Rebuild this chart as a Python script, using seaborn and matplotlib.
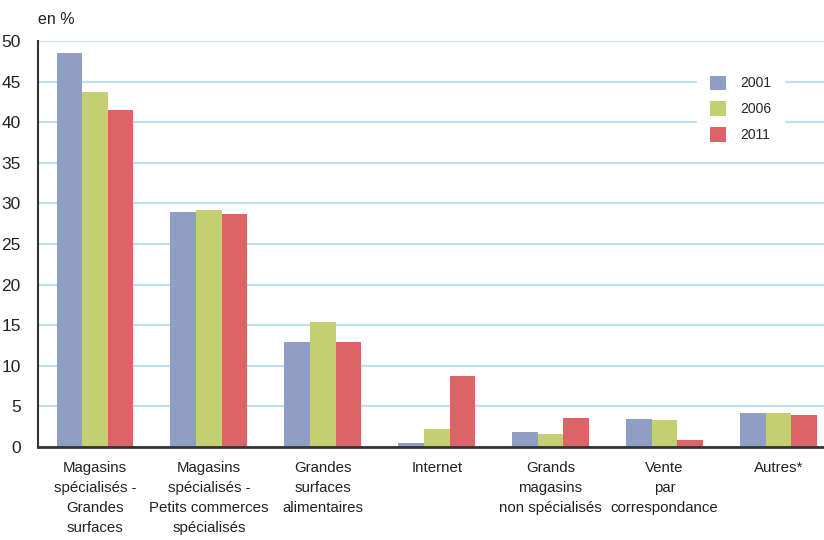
import pandas as pd
import numpy as np
import seaborn as sns
import matplotlib.pyplot as plt

# Data (share in %)
categories = [
    'Magasins\nspécialisés -\nGrandes\nsurfaces',
    'Magasins\nspécialisés -\nPetits commerces\nspécialisés',
    'Grandes\nsurfaces\nalimentaires',
    'Internet',
    'Grands\nmagasins\nnon spécialisés',
    'Vente\npar\ncorrespondance',
    'Autres*',
]
years = ['2001', '2006', '2011']
values_2001 = [48.5, 28.9, 12.9, 0.5, 1.85, 3.45, 4.2]
values_2006 = [43.7, 29.2, 15.4, 2.2, 1.6, 3.3, 4.2]
values_2011 = [41.5, 28.7, 12.9, 8.75, 3.6, 0.85, 3.95]
yticks = [0, 5, 10, 15, 20, 25, 30, 35, 40, 45, 50]

colors = ['#8f9fc3', '#c4cf72', '#dc6466']

df = pd.DataFrame({
    'categorie': categories * 3,
    'annee': np.repeat(years, len(categories)),
    'valeur': values_2001 + values_2006 + values_2011,
})

sns.set_style('white')
plt.rcParams['font.family'] = ['Liberation Sans', 'DejaVu Sans']

fig = plt.figure(figsize=(8.24, 5.4), dpi=100)
ax = fig.add_axes([38 / 824, 1 - 447 / 540, 1 - 38 / 824, 406 / 540])

sns.barplot(data=df, x='categorie', y='valeur', hue='annee', palette=colors,
            width=0.675, gap=0, saturation=1, errorbar=None, linewidth=0,
            ax=ax, zorder=3)

ax.set_xlim(-0.5, 6.4)
ax.set_ylim(0, 50)
ax.set_yticks(yticks)
ax.set_yticklabels([str(t) for t in yticks], fontsize=12.5, color='#222222')
ax.tick_params(axis='y', length=0, pad=12.5)
ax.tick_params(axis='x', length=0, pad=10, labelsize=10.8, labelcolor='#222222')
for lbl in ax.get_xticklabels():
    lbl.set_linespacing(1.55)
    lbl.set_verticalalignment('top')
ax.set_xlabel('')
ax.set_ylabel('')

ax.yaxis.grid(True, color='#bfe0f2', linewidth=1.6, zorder=0)
ax.set_axisbelow(True)
for s in ['top', 'right']:
    ax.spines[s].set_visible(False)
ax.spines['left'].set_color('#333333')
ax.spines['left'].set_linewidth(1.5)
ax.spines['bottom'].set_color('#333333')
ax.spines['bottom'].set_linewidth(2)
for s in ['left', 'bottom']:
    ax.spines[s].set_zorder(5)

fig.text(38 / 824, 1 - 20 / 540, 'en %', fontsize=11.5, color='#222222',
         va='center', ha='left')

leg = ax.legend(loc='upper left', bbox_to_anchor=(697 / 824, 1 - 63 / 540),
                bbox_transform=fig.transFigure, frameon=True, fancybox=False,
                facecolor='white', edgecolor='white', framealpha=1,
                fontsize=10, handlelength=1.2, handleheight=1.2,
                handletextpad=1.0, labelspacing=0.8, borderpad=0.9,
                borderaxespad=0, title=None)
leg.set_zorder(10)

fig.savefig('out.png', dpi=100)
